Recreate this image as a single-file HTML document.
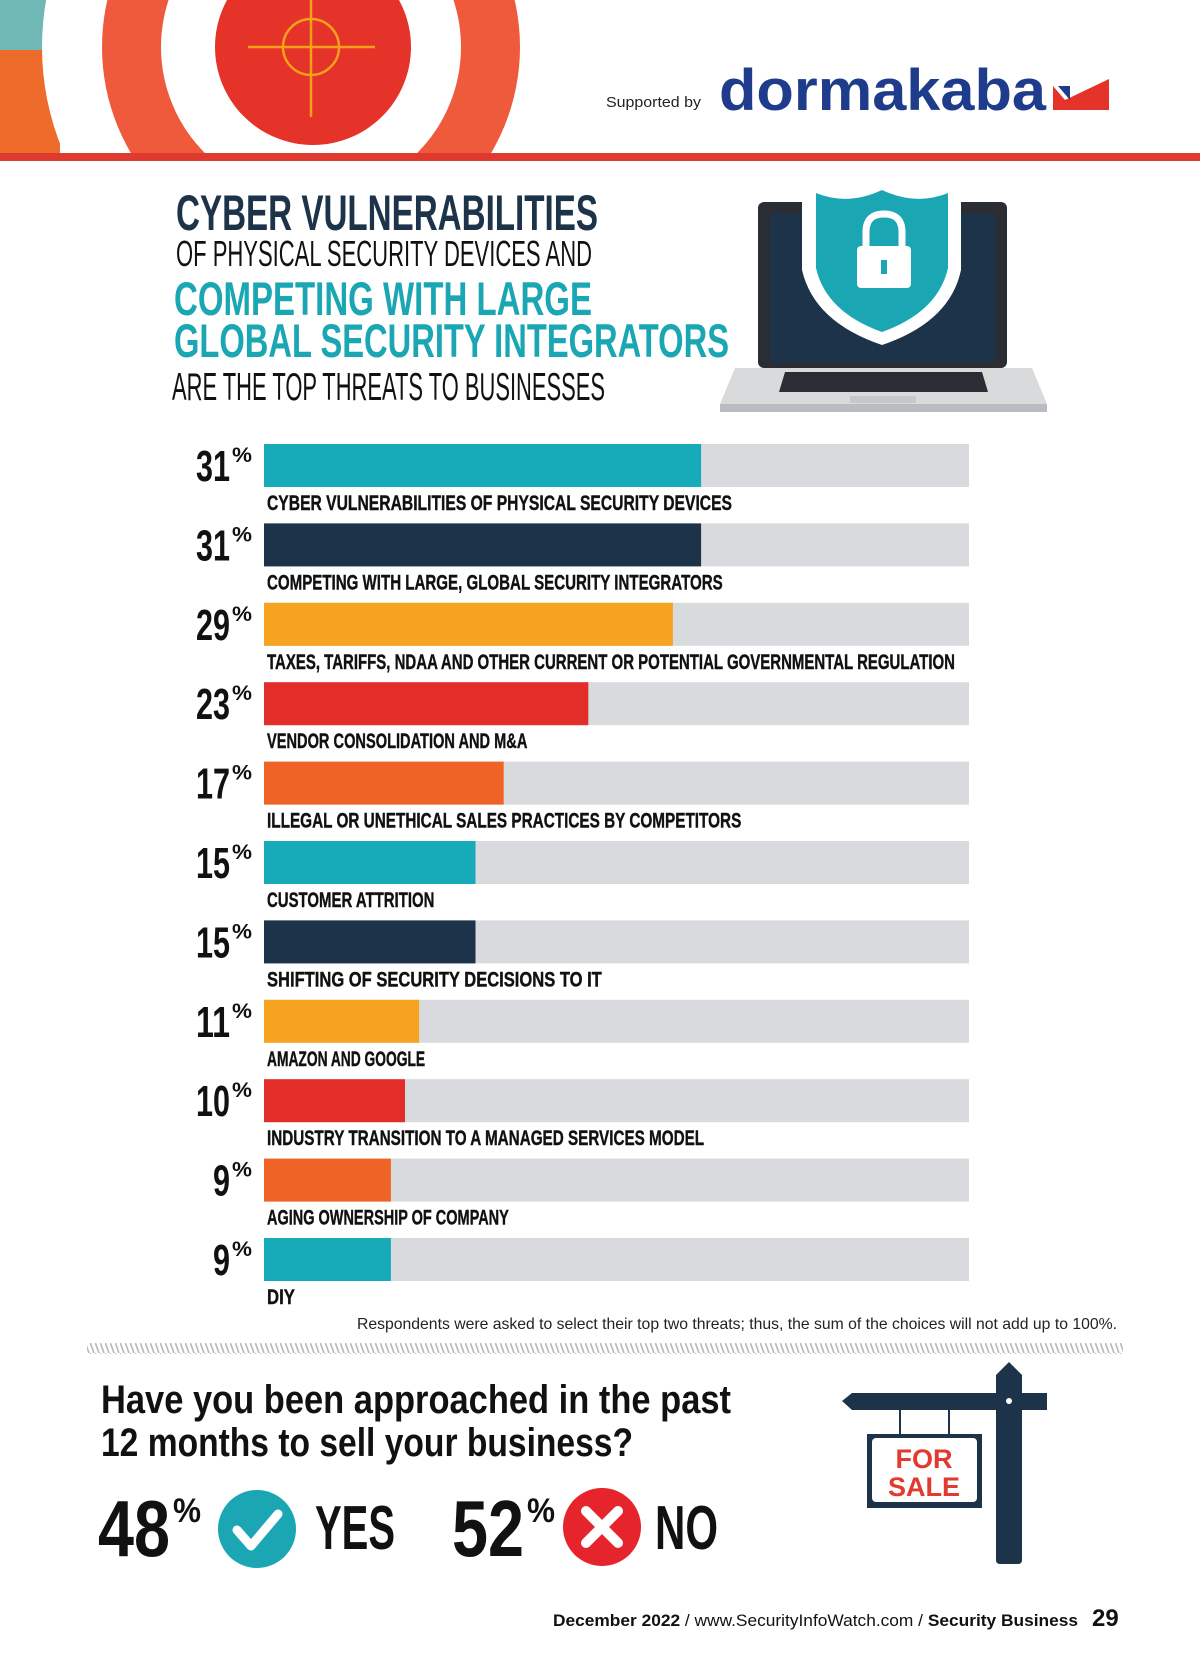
<!DOCTYPE html>
<html><head><meta charset="utf-8"><style>
html,body{margin:0;padding:0;background:#fff}
svg{display:block}
.c{font-family:"Liberation Sans Narrow","Liberation Sans",sans-serif;font-weight:bold}
</style></head><body>
<svg id="page" width="1200" height="1665" viewBox="0 0 1200 1665" xmlns="http://www.w3.org/2000/svg">
<defs>
<clipPath id="topclip"><rect x="0" y="0" width="1200" height="153"/></clipPath>
<pattern id="hatch" width="5" height="11" patternUnits="userSpaceOnUse"><line x1="0" y1="0" x2="4" y2="11" stroke="#b8b8b8" stroke-width="1.6"/></pattern>
</defs>
<g clip-path="url(#topclip)">
<rect x="0" y="0" width="60" height="60" fill="#6fb8b6"/>
<rect x="0" y="50" width="60" height="110" fill="#ef6b2c"/>
<circle cx="311" cy="47" r="269" fill="#fff"/>
<circle cx="311" cy="47" r="209" fill="#ee5a3b"/>
<circle cx="311" cy="47" r="150" fill="#fff"/>
<circle cx="313" cy="47" r="98" fill="#e63329"/>
<circle cx="311" cy="47" r="28" fill="none" stroke="#f7a11a" stroke-width="2.5"/>
<line x1="248" y1="47" x2="375" y2="47" stroke="#f7a11a" stroke-width="2.5"/>
<line x1="311" y1="0" x2="311" y2="117" stroke="#f7a11a" stroke-width="2.5"/>
</g>
<rect x="0" y="153" width="1200" height="8" fill="#e03a30"/>
<text x="606" y="107" font-family="Liberation Sans" font-size="15" fill="#222" textLength="95" lengthAdjust="spacingAndGlyphs">Supported by</text>
<text x="719" y="110" font-family="Liberation Sans" font-weight="bold" font-size="58" fill="#1f3c8c" textLength="327" lengthAdjust="spacingAndGlyphs">dormakaba</text>
<g><polygon points="1053,110 1053,86 1065,100 1109,79 1109,110" fill="#e63329"/><polygon points="1058,86 1070,86 1070,100" fill="#1f3c8c"/></g>

<g>
<text class="c" x="176" y="230" font-size="50" fill="#1c3349" textLength="422" lengthAdjust="spacingAndGlyphs">CYBER VULNERABILITIES</text>
<text x="176" y="266" font-family="Liberation Sans Narrow,Liberation Sans,sans-serif" font-size="36" fill="#111" textLength="416" lengthAdjust="spacingAndGlyphs">OF PHYSICAL SECURITY DEVICES AND</text>
<text class="c" x="174" y="315" font-size="47" fill="#1aa7b3" textLength="418" lengthAdjust="spacingAndGlyphs">COMPETING WITH LARGE</text>
<text class="c" x="174" y="357" font-size="47" fill="#1aa7b3" textLength="555" lengthAdjust="spacingAndGlyphs">GLOBAL SECURITY INTEGRATORS</text>
<text x="172" y="400" font-family="Liberation Sans Narrow,Liberation Sans,sans-serif" font-size="39" fill="#111" textLength="433" lengthAdjust="spacingAndGlyphs">ARE THE TOP THREATS TO BUSINESSES</text>
</g>

<g>
<rect x="758" y="202" width="249" height="166" rx="6" fill="#2a2d33"/>
<rect x="770" y="214" width="225" height="148" fill="#1c3349"/>
<path d="M735,368 L1032,368 L1047,404 L720,404 Z" fill="#d8dadc"/>
<rect x="720" y="404" width="327" height="8" fill="#b9bcc0"/>
<path d="M785,372 L982,372 L988,392 L779,392 Z" fill="#2a2d33"/>
<rect x="850" y="396" width="66" height="7" rx="2" fill="#c5c8cb"/>
<path d="M802,180 Q840,196 882,176 Q924,196 961,180 L961,270 Q950,322 882,345 Q814,322 802,270 Z" fill="#fff"/>
<path d="M816,193 Q848,206 882,190 Q916,206 948,193 L948,268 Q938,312 882,332 Q826,312 816,268 Z" fill="#1aa7b3"/>
<rect x="857" y="246" width="54" height="42" rx="4" fill="#fff"/>
<path d="M866,246 L866,232 Q866,214 884,214 Q902,214 902,232 L902,246" fill="none" stroke="#fff" stroke-width="7"/>
<rect x="881" y="260" width="6" height="14" fill="#1aa7b3"/>
</g>

<g id="bars"></g>

<text x="357" y="1329" font-family="Liberation Sans Narrow,Liberation Sans,sans-serif" font-size="16" fill="#222" textLength="760" lengthAdjust="spacingAndGlyphs">Respondents were asked to select their top two threats; thus, the sum of the choices will not add up to 100%.</text>
<rect x="87" y="1343" width="1036" height="11" fill="url(#hatch)"/>

<g>
<text class="c" x="101" y="1413" font-size="40" fill="#111" textLength="630" lengthAdjust="spacingAndGlyphs">Have you been approached in the past</text>
<text class="c" x="101" y="1456" font-size="40" fill="#111" textLength="532" lengthAdjust="spacingAndGlyphs">12 months to sell your business?</text>
</g>
<g>
<text class="c" x="98" y="1556" font-size="80" fill="#111" textLength="72" lengthAdjust="spacingAndGlyphs">48</text>
<text class="c" x="173" y="1522" font-size="34" fill="#111" textLength="28" lengthAdjust="spacingAndGlyphs">%</text>
<circle cx="257" cy="1529" r="39" fill="#1aa7b3"/>
<polyline points="237,1530 251,1546 278,1514" fill="none" stroke="#fff" stroke-width="9" stroke-linecap="round" stroke-linejoin="round"/>
<text class="c" x="315" y="1549" font-size="62" fill="#111" textLength="80" lengthAdjust="spacingAndGlyphs">YES</text>
</g>
<g>
<text class="c" x="452" y="1556" font-size="80" fill="#111" textLength="72" lengthAdjust="spacingAndGlyphs">52</text>
<text class="c" x="527" y="1522" font-size="34" fill="#111" textLength="28" lengthAdjust="spacingAndGlyphs">%</text>
<circle cx="602" cy="1527" r="39" fill="#e5242b"/>
<path d="M586,1511 L618,1543 M618,1511 L586,1543" stroke="#fff" stroke-width="10" stroke-linecap="round"/>
<text class="c" x="655" y="1549" font-size="62" fill="#111" textLength="63" lengthAdjust="spacingAndGlyphs">NO</text>
</g>
<g>
<path d="M996,1375 L1009,1362 L1022,1375 L1022,1560 Q1022,1564 1018,1564 L1000,1564 Q996,1564 996,1560 Z" fill="#1c3349"/>
<path d="M842,1401 L852,1393 L1047,1393 L1047,1410 L852,1410 Z" fill="#1c3349"/>
<circle cx="1009" cy="1401" r="3" fill="#fff"/>
<rect x="899" y="1410" width="2" height="25" fill="#1c3349"/><rect x="948" y="1410" width="2" height="25" fill="#1c3349"/>
<rect x="867" y="1434" width="115" height="74" fill="#1c3349"/>
<rect x="872" y="1438" width="105" height="64" rx="4" fill="#fff"/>
<text x="924" y="1468" text-anchor="middle" font-family="Liberation Sans" font-weight="bold" font-size="27" fill="#e23a30">FOR</text>
<text x="924" y="1496" text-anchor="middle" font-family="Liberation Sans" font-weight="bold" font-size="27" fill="#e23a30">SALE</text>
</g>
<g>
<text x="553" y="1626" font-family="Liberation Sans" font-size="17" fill="#111" textLength="525" lengthAdjust="spacingAndGlyphs"><tspan font-weight="bold">December 2022</tspan> / www.SecurityInfoWatch.com / <tspan font-weight="bold">Security Business</tspan></text>
<text x="1092" y="1626" font-family="Liberation Sans" font-weight="bold" font-size="24" fill="#111">29</text>
</g>
</svg>
<script>
const categories = ["CYBER VULNERABILITIES OF PHYSICAL SECURITY DEVICES","COMPETING WITH LARGE, GLOBAL SECURITY INTEGRATORS","TAXES, TARIFFS, NDAA AND OTHER CURRENT OR POTENTIAL GOVERNMENTAL REGULATION","VENDOR CONSOLIDATION AND M&A","ILLEGAL OR UNETHICAL SALES PRACTICES BY COMPETITORS","CUSTOMER ATTRITION","SHIFTING OF SECURITY DECISIONS TO IT","AMAZON AND GOOGLE","INDUSTRY TRANSITION TO A MANAGED SERVICES MODEL","AGING OWNERSHIP OF COMPANY","DIY"];
const values = [31,31,29,23,17,15,15,11,10,9,9];
const valueLabels = ["31","31","29","23","17","15","15","11","10","9","9"];
const colorCycle = ["#17abb9","#1c3349","#f6a41f","#e22d28","#ef6426"];
const NS="http://www.w3.org/2000/svg";
const g=document.getElementById('bars');
const trackX=264, trackW=705, maxV=50, top0=444, step=79.4, barH=43;
const xScale=v=>v/maxV*trackW;
const yScale=i=>top0+i*step;
function mk(tag,attrs){const e=document.createElementNS(NS,tag);for(const k in attrs)e.setAttribute(k,attrs[k]);return e;}
categories.forEach((cat,i)=>{
  const y=yScale(i);
  const track=mk('rect',{x:trackX,y:y,width:trackW,height:barH,fill:'#d9dadd'});
  
  
  g.appendChild(track);
  const bar=mk('rect',{x:trackX,y:y,width:xScale(values[i]),height:barH,fill:colorCycle[i%5]});
  
  
  g.appendChild(bar);
  const lblTxt=valueLabels[i];
  const nw=lblTxt.length*17;
  const num=mk('text',{x:230-nw,y:y+37,'class':'c','font-size':44,fill:'#111',textLength:nw,lengthAdjust:'spacingAndGlyphs'});
  num.textContent=lblTxt;
  
  
  g.appendChild(num);
  const pc=mk('text',{x:232,y:y+18,'class':'c','font-size':21,fill:'#111',textLength:20,lengthAdjust:'spacingAndGlyphs'});
  pc.textContent='%';
  
  
  g.appendChild(pc);
  const lb=mk('text',{x:267,y:y+66,'class':'c','font-size':21,fill:'#111',stroke:'#111','stroke-width':0.4});
  lb.textContent=cat;
  
  
  g.appendChild(lb);
  const est=cat.length*9.3;
  lb.setAttribute('textLength',Math.min(est,688));
  lb.setAttribute('lengthAdjust','spacingAndGlyphs');
});
</script>
</body></html>
